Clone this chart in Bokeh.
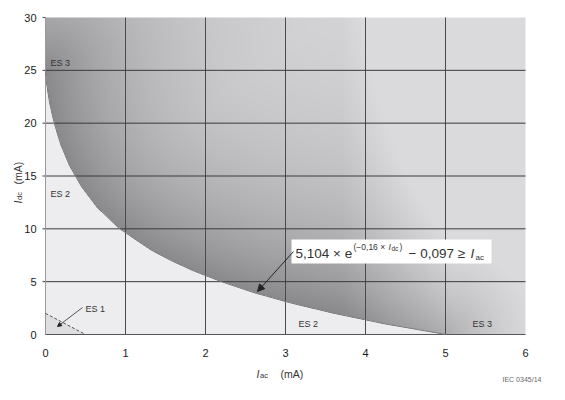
import numpy as np
from bokeh.plotting import figure
from bokeh.models import Range1d, Label, Arrow, NormalHead, BoxAnnotation
from bokeh.core.properties import value
from bokeh.embed import file_html
from bokeh.resources import INLINE

# ---- data ----
# boundary curve: I_dc (mA) vs I_ac (mA)
curve_idc = [0, 1, 2, 3, 4, 5, 6, 7, 8, 10, 12, 14, 16, 18, 20, 22, 24, 25]
curve_iac = [5.01, 4.25, 3.61, 3.06, 2.59, 2.20, 1.86, 1.57, 1.32, 0.93, 0.65, 0.45,
             0.30, 0.19, 0.11, 0.05, 0.01, 0.0]
# ES 1 limit (dashed)
es1_iac = [0.0, 0.5]
es1_idc = [2.0, 0.0]
x_ticks = [0, 1, 2, 3, 4, 5, 6]
y_ticks = [0, 5, 10, 15, 20, 25, 30]
x_grid = [1, 2, 3, 4, 5]
y_grid = [5, 10, 15, 20, 25]
X_MAX, Y_MAX = 6, 30

FONT = "Liberation Sans"
W, H = 565, 400
FW, FH = 480, 317          # plotting area in px
SX, SY = FW / X_MAX, FH / Y_MAX
LEFT, BOTTOM = 45, 334     # page px of the data origin

def dx(px):   # page px -> data x
    return (px - LEFT) / SX

def dy(py):   # page px -> data y
    return (BOTTOM - py) / SY

p = figure(width=W, height=H, output_backend="svg", toolbar_location=None,
           x_range=Range1d(dx(0), dx(W)), y_range=Range1d(dy(H), dy(0)),
           min_border=0)
p.outline_line_color = None
p.background_fill_color = "white"
p.border_fill_color = "white"
p.axis.visible = False
p.grid.visible = False

# ---- shaded background (gradient darker near the boundary) ----
NX, NY = FW, FH
xs = (np.arange(NX) + 0.5) / NX * X_MAX
ys = (np.arange(NY) + 0.5) / NY * Y_MAX
X, Y = np.meshgrid(xs, ys)
PX, PY = X * SX, Y * SY
cx = np.array(curve_iac) * SX
cy = np.array(curve_idc) * SY
d = np.full(X.shape, np.inf)
for k in range(len(cx) - 1):
    ax_, ay_, bx_, by_ = cx[k], cy[k], cx[k + 1], cy[k + 1]
    vx, vy = bx_ - ax_, by_ - ay_
    t = np.clip(((PX - ax_) * vx + (PY - ay_) * vy) / (vx * vx + vy * vy), 0, 1)
    d = np.minimum(d, np.hypot(PX - (ax_ + t * vx), PY - (ay_ + t * vy)))
boundary = np.interp(Y, curve_idc, curve_iac)
above = X > boundary
g_above = 138 + 80 * (1 - np.exp(-d / 115.0)) + 38 * np.clip((X - 3.7) / 1.4, 0, 1)
g_above = np.minimum(g_above, 218)
g = np.where(above, g_above, 237.0)
in_es1 = (X / es1_iac[1] + Y / es1_idc[0]) < 1
g = np.where(in_es1 & ~above, 222.0, g)
img = np.empty((NY, NX), dtype=np.uint32)
view = img.view(dtype=np.uint8).reshape((NY, NX, 4))
view[:, :, 0] = g.astype(np.uint8)
view[:, :, 1] = g.astype(np.uint8)
view[:, :, 2] = np.minimum(g + 3, 255).astype(np.uint8)
view[:, :, 3] = 255
p.image_rgba(image=[img], x=0, y=0, dw=X_MAX, dh=Y_MAX, level="image")

# ---- grid lines ----
p.segment(x0=x_grid, y0=[0] * len(x_grid), x1=x_grid, y1=[Y_MAX] * len(x_grid),
          line_color="#4a4a4a", line_width=1)
p.segment(x0=[dx(42)] * len(y_grid), y0=y_grid, x1=[X_MAX] * len(y_grid), y1=y_grid,
          line_color="#3a3a3a", line_width=1)
# axis lines
p.segment(x0=[0], y0=[0], x1=[0], y1=[Y_MAX], line_color="#9a9a9a", line_width=1)
p.segment(x0=[dx(42), 0], y0=[Y_MAX, 0], x1=[0, X_MAX], y1=[Y_MAX, 0],
          line_color="#555555", line_width=1)

# tick labels
p.text(x=x_ticks, y=[dy(352)] * len(x_ticks), text=[str(t) for t in x_ticks],
       text_font=value(FONT), text_font_size="11px", text_color="#1a1a1a",
       text_align="center", text_baseline="middle")
p.text(x=[dx(36)] * len(y_ticks), y=y_ticks, text=[str(t) for t in y_ticks],
       text_font=value(FONT), text_font_size="11px", text_color="#1a1a1a",
       text_align="right", text_baseline="middle")

# ---- boundary line and ES1 dashed line ----
p.line(curve_iac, curve_idc, line_color="#7a7a7a", line_width=1)
p.line(es1_iac, es1_idc, line_color="#555555", line_width=1, line_dash="3 2")

# ---- texts ----
def lab(x, y, text, size="9px", style="normal", color="#333333", angle=0.0, align="left"):
    p.add_layout(Label(x=x, y=y, text=text, text_font=FONT, text_font_size=size,
                       text_font_style=style, text_color=color, text_baseline="middle",
                       text_align=align, angle=angle))

lab(dx(50), dy(62), "ES 3")
lab(dx(50), dy(193), "ES 2")
lab(dx(85), dy(308), "ES 1")
lab(dx(298), dy(323), "ES 2")
lab(dx(472), dy(323), "ES 3")

# ES1 leader
p.add_layout(Arrow(x_start=dx(82), y_start=dy(307), x_end=dx(57), y_end=dy(326),
                   line_color="#555555", line_width=1,
                   end=NormalHead(size=4, fill_color="#222222", line_color="#222222")))

# ---- formula box ----
p.add_layout(BoxAnnotation(left=dx(291), right=dx(491), top=dy(239), bottom=dy(263),
                           fill_color="white", fill_alpha=1.0, line_color=None))
p.add_layout(Arrow(x_start=dx(293), y_start=dy(251), x_end=dx(257), y_end=dy(291),
                   line_color="#222222", line_width=1,
                   end=NormalHead(size=7, fill_color="#222222", line_color="#222222")))
FC = "#333333"
lab(dx(295), dy(253), "5,104 × e", size="13.5px", color=FC)
lab(dx(353), dy(246), "(−0,16 × ", size="8.5px", color=FC)
lab(dx(388), dy(246), "I", size="8.5px", style="italic", color=FC)
lab(dx(391), dy(248), "dc", size="6.5px", color=FC)
lab(dx(399), dy(246), ")", size="8.5px", color=FC)
lab(dx(408), dy(253), "− 0,097 ≥", size="13.5px", color=FC)
lab(dx(470), dy(253), "I", size="13.5px", style="italic", color=FC)
lab(dx(475), dy(257), "ac", size="8px", color=FC)

# ---- axis titles ----
lab(dx(256), dy(373), "I", size="10.5px", style="italic", color="#333333")
lab(dx(259.5), dy(375), "ac", size="7.5px", color="#333333")
lab(dx(280), dy(373), "(mA)", size="10.5px", color="#333333")
lab(dx(17), dy(203), "I", size="10.5px", style="italic", color="#333333", angle=np.pi / 2)
lab(dx(19), dy(199.5), "dc", size="7.5px", color="#333333", angle=np.pi / 2)
lab(dx(17), dy(184), "(mA)", size="10.5px", color="#333333", angle=np.pi / 2)

# ---- figure id ----
lab(dx(502), dy(379), "IEC  0345/14", size="7px", color="#666666")

open("out.html", "w").write(file_html(p, INLINE))
